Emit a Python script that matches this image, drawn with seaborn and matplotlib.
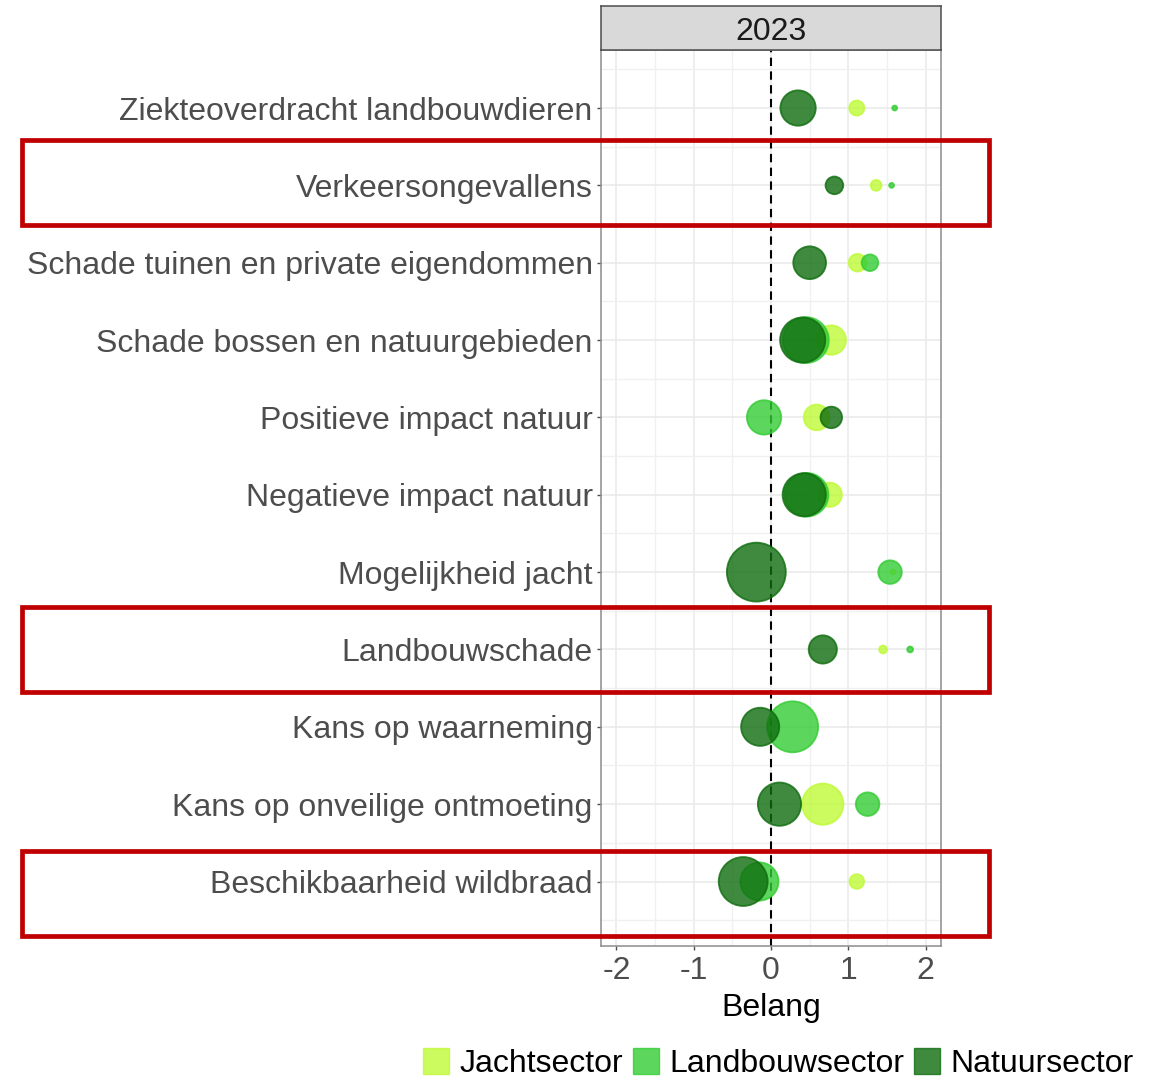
import numpy as np
import pandas as pd
import seaborn as sns
import matplotlib.pyplot as plt
from matplotlib.patches import Rectangle, Patch
import matplotlib.transforms as mtransforms

# --- data ---------------------------------------------------------------
categories = [
    "Ziekteoverdracht landbouwdieren",
    "Verkeersongevallens",
    "Schade tuinen en private eigendommen",
    "Schade bossen en natuurgebieden",
    "Positieve impact natuur",
    "Negatieve impact natuur",
    "Mogelijkheid jacht",
    "Landbouwschade",
    "Kans op waarneming",
    "Kans op onveilige ontmoeting",
    "Beschikbaarheid wildbraad",
]
sectors = ["Jachtsector", "Landbouwsector", "Natuursector"]

jacht_belang = [1.11, 1.36, 1.12, 0.78, 0.59, 0.76, 1.58, 1.45, np.nan, 0.67, 1.11]
jacht_n = [6.6, 3.4, 9.0, 25.0, 19.0, 17.0, 0.7, 1.8, np.nan, 49.0, 6.2]

landbouw_belang = [1.60, 1.56, 1.28, 0.45, -0.09, 0.46, 1.54, 1.80, 0.28, 1.25, -0.15]
landbouw_n = [0.7, 0.7, 8.0, 61.0, 34.0, 55.0, 16.0, 1.0, 75.0, 16.0, 42.0]

natuur_belang = [0.35, 0.82, 0.50, 0.41, 0.78, 0.43, -0.19, 0.67, -0.14, 0.11, -0.36]
natuur_n = [36.0, 9.0, 31.0, 59.0, 13.4, 54.0, 100.0, 23.0, 42.0, 54.0, 69.0]

highlighted = ["Verkeersongevallens", "Landbouwschade", "Beschikbaarheid wildbraad"]

palette = {"Jachtsector": "#BFFA36", "Landbouwsector": "#33CC33", "Natuursector": "#0F6D0F"}

frames = []
for sector, xs, ns in [("Jachtsector", jacht_belang, jacht_n),
                       ("Landbouwsector", landbouw_belang, landbouw_n),
                       ("Natuursector", natuur_belang, natuur_n)]:
    frames.append(pd.DataFrame({"thema": categories, "belang": xs, "n": ns, "sector": sector}))
df = pd.concat(frames, ignore_index=True).dropna()
df["pos"] = pd.Categorical(df["thema"], categories=categories).codes

# --- figure -------------------------------------------------------------
sns.set_theme(style="white")
plt.rcParams["font.family"] = ["Liberation Sans", "DejaVu Sans"]

FS = 23

fig = plt.figure(figsize=(11.5, 10.78), dpi=100)
ax = fig.add_axes([0.5226, 0.1220, 0.2957, 0.8316])

sns.scatterplot(
    data=df, x="belang", y="pos", hue="sector", size="n",
    hue_order=sectors, palette=palette,
    sizes=(0, 1800), size_norm=(0, 100),
    alpha=0.8, edgecolor="face", linewidth=1.3,
    legend=False, ax=ax, zorder=3,
)

ax.axvline(0, color="black", lw=1.5, ls=(0, (4, 2.6)), zorder=2)

n = len(categories)
ax.set_xlim(-2.2, 2.2)
ax.set_ylim(n - 1 + 0.84, -0.75)
ax.set_xticks([-2, -1, 0, 1, 2])
ax.set_xticks(np.arange(-2, 2.01, 0.5), minor=True)
ax.set_yticks(range(n))
ax.set_yticks(np.arange(-0.5, n, 1.0), minor=True)
ax.set_yticklabels(categories)
ax.set_xticklabels(["-2", "-1", "0", "1", "2"])

ax.grid(which="major", color="#ebebeb", lw=1.2, zorder=0)
ax.grid(which="minor", color="#f0f0f0", lw=1.0, zorder=0)
ax.set_axisbelow(True)

for s in ax.spines.values():
    s.set_color("#8c8c8c")
    s.set_linewidth(1.1)

ax.tick_params(axis="y", which="major", length=3, width=1, color="#4d4d4d",
               labelsize=FS, labelcolor="#4d4d4d", pad=3, left=True)
ax.tick_params(axis="x", which="major", length=3, width=1, color="#4d4d4d",
               labelsize=FS, labelcolor="#4d4d4d", pad=4, bottom=True)
ax.tick_params(which="minor", length=0)

ax.set_xlabel("Belang", fontsize=FS, color="black", labelpad=5)
ax.set_ylabel("")

# facet strip
strip = fig.add_axes([0.5226, 0.9536, 0.2957, 0.0408])
strip.set_facecolor("#d9d9d9")
strip.set_xticks([])
strip.set_yticks([])
for s in strip.spines.values():
    s.set_color("#4d4d4d")
    s.set_linewidth(1.1)
strip.text(0.5, 0.42, "2023", ha="center", va="center", fontsize=FS, color="#1a1a1a",
           transform=strip.transAxes)

# hand-drawn highlight boxes around selected rows (top offset per box, in row units)
box_top_offsets = [-0.59, -0.545, -0.40]
trans = mtransforms.blended_transform_factory(fig.transFigure, ax.transData)
for thema, off in zip(highlighted, box_top_offsets):
    i = categories.index(thema)
    rect = Rectangle((0.0191, i + off), 0.8410, 1.10, transform=trans,
                     fill=False, edgecolor="#c00000", lw=3.4, clip_on=False, zorder=10)
    fig.add_artist(rect)

# legend
handles = [Patch(facecolor=palette[s], edgecolor=palette[s], alpha=0.8, label=s) for s in sectors]
leg = fig.legend(handles=handles, loc="center right", bbox_to_anchor=(0.997, 0.0135),
                 ncol=3, frameon=False, fontsize=FS, handlelength=0.8, handleheight=0.9,
                 handletextpad=0.34, columnspacing=0.3, borderaxespad=0)
for t in leg.get_texts():
    t.set_color("black")

fig.savefig("out.png", dpi=100)
